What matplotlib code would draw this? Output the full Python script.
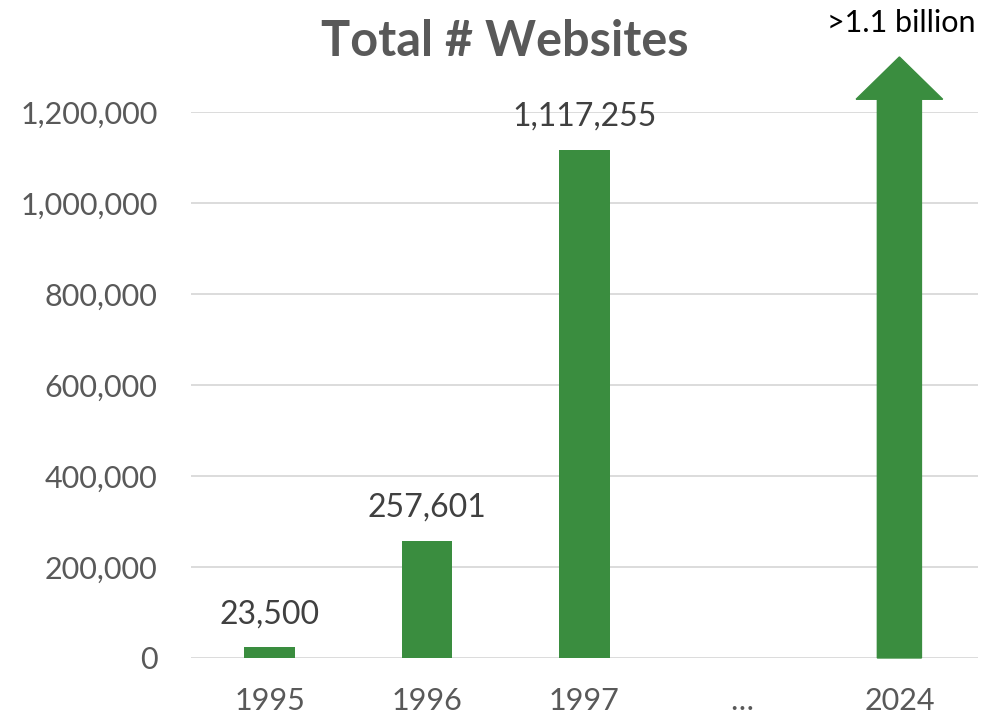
import numpy as np
import matplotlib.pyplot as plt
from matplotlib.patches import Polygon
from matplotlib.ticker import FuncFormatter

# Datos
categorias = ['1995', '1996', '1997', '…', '2024']
valores = [23500, 257601, 1117255, None, None]
etiquetas = ['23,500', '257,601', '1,117,255']
flecha_base = 1228000   # base de la punta de la flecha (2024)
flecha_tope = 1321000   # punta de la flecha
texto_flecha = '>1.1 billion'

verde = '#3A8D3F'
gris = '#595959'

plt.rcParams['font.family'] = ['Lato', 'DejaVu Sans']

fig = plt.figure(figsize=(9.89, 7.18), dpi=100)
ax = fig.add_axes([0.193, 0.0836, 0.796, 0.7604])

x = np.arange(len(categorias))
ancho = 0.32
for i, v in enumerate(valores):
    if v is not None:
        ax.bar(x[i], v, width=ancho, color=verde, zorder=3)
        ax.text(x[i], v + 40000, etiquetas[i], ha='center', va='bottom',
                fontsize=23, color='#404040')

# Flecha para 2024
i = categorias.index('2024')
w_eje = 0.28
w_cabeza = 0.55
flecha = Polygon([
    (x[i] - w_eje / 2, 0), (x[i] + w_eje / 2, 0),
    (x[i] + w_eje / 2, flecha_base), (x[i] + w_cabeza / 2, flecha_base),
    (x[i], flecha_tope), (x[i] - w_cabeza / 2, flecha_base),
    (x[i] - w_eje / 2, flecha_base)], closed=True, color=verde, zorder=3,
    clip_on=False)
ax.add_patch(flecha)
fig.text(0.986, 0.968, texto_flecha, ha='right', va='center', fontsize=22, color='black')

ax.set_xlim(-0.5, len(categorias) - 0.5)
ax.set_ylim(0, 1200000)
ax.set_yticks(np.arange(0, 1200001, 200000))
ax.yaxis.set_major_formatter(FuncFormatter(lambda v, p: f'{int(v):,}'))
ax.set_xticks(x)
ax.set_xticklabels(categorias)
ax.tick_params(length=0, labelsize=22, labelcolor=gris, pad=21)
ax.tick_params(axis='y', pad=24)
ax.grid(axis='y', color='#D9D9D9', linewidth=1.3, zorder=0)
for s in ax.spines.values():
    s.set_visible(False)

fig.text(0.51, 0.942, 'Total # Websites', ha='center', va='center',
         fontsize=35, fontweight='bold', color=gris)

fig.savefig('out.png', dpi=100)
